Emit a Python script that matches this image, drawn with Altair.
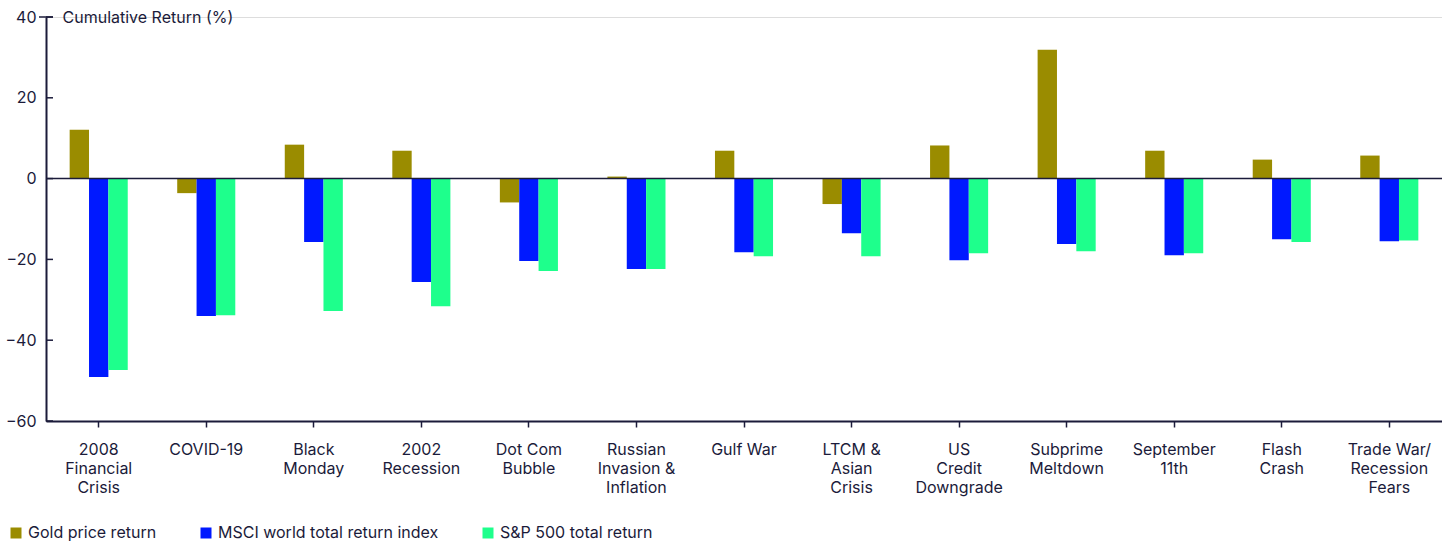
import altair as alt
import pandas as pd

# Market shocks (x categories); "|" marks a line break in the axis label
events = [
    "2008|Financial|Crisis", "COVID-19", "Black|Monday", "2002|Recession",
    "Dot Com|Bubble", "Russian|Invasion &|Inflation", "Gulf War",
    "LTCM &|Asian|Crisis", "US|Credit|Downgrade", "Subprime|Meltdown",
    "September|11th", "Flash|Crash", "Trade War/|Recession|Fears",
]

series = ["Gold price return", "MSCI world total return index", "S&P 500 total return"]
colors = ["#9a8c00", "#0019ff", "#1eff8c"]

# Cumulative return (%) over each episode
gold = [12.1, -3.6, 8.4, 6.9, -5.9, 0.5, 6.9, -6.3, 8.2, 31.9, 6.9, 4.7, 5.7]
msci = [-49.1, -34.0, -15.7, -25.6, -20.4, -22.4, -18.2, -13.5, -20.2, -16.2, -19.0, -15.0, -15.5]
sp500 = [-47.4, -33.8, -32.8, -31.6, -22.9, -22.4, -19.2, -19.2, -18.5, -18.0, -18.5, -15.7, -15.3]

y_ticks = [40, 20, 0, -20, -40, -60]

rows = []
for name, vals in zip(series, [gold, msci, sp500]):
    for ev, v in zip(events, vals):
        rows.append({"event": ev, "series": name, "value": v})
df = pd.DataFrame(rows)

INK = "#1b1b3a"
FONT = "Inter"
FS = 16
W, H = 1396, 404

y_scale = alt.Scale(domain=[-60, 40], nice=False, zero=False)

bars = alt.Chart(df).mark_bar().encode(
    x=alt.X(
        "event:N",
        sort=events,
        scale=alt.Scale(paddingInner=0.46, paddingOuter=0.22),
        axis=alt.Axis(
            title=None,
            labelAngle=0,
            labelExpr="split(datum.label, '|')",
            labelFont=FONT,
            labelFontSize=FS,
            labelColor=INK,
            labelLineHeight=19,
            labelPadding=14,
            tickSize=6,
            tickColor=INK,
            tickWidth=1.5,
            domainColor=INK,
            domainWidth=2,
            grid=False,
        ),
    ),
    xOffset=alt.XOffset("series:N", sort=series, scale=alt.Scale(paddingInner=0, paddingOuter=0)),
    y=alt.Y(
        "value:Q",
        scale=y_scale,
        axis=alt.Axis(
            values=y_ticks,
            title="Cumulative Return (%)",
            titleAngle=0,
            titleAlign="left",
            titleBaseline="middle",
            titleX=16,
            titleY=0,
            titleFont=FONT,
            titleFontSize=FS,
            titleFontWeight="normal",
            titleColor=INK,
            labelFont=FONT,
            labelFontSize=FS,
            labelColor=INK,
            labelPadding=10,
            tickSize=0,
            domainColor=INK,
            domainWidth=2,
            grid=False,
        ),
    ),
    color=alt.Color(
        "series:N",
        sort=series,
        scale=alt.Scale(domain=series, range=colors),
        legend=alt.Legend(
            title=None,
            orient="none",
            legendX=-38,
            legendY=508,
            direction="horizontal",
            symbolType="square",
            symbolSize=121,
            symbolStrokeWidth=0,
            symbolOpacity=1,
            labelFont=FONT,
            labelFontSize=FS,
            labelColor=INK,
            labelOffset=4,
            labelLimit=400,
            columnPadding=41,
        ),
    ),
)

# inward-pointing tick marks on the value axis
tick_df = pd.DataFrame({"v": y_ticks})
ticks = alt.Chart(tick_df).mark_rule(color=INK, strokeWidth=1.5).encode(
    y=alt.Y("v:Q", scale=y_scale),
    x=alt.value(0),
    x2=alt.value(7),
)

# the top tick crosses the axis line, forming a cap
cap = alt.Chart(pd.DataFrame({"v": [y_ticks[0]]})).mark_rule(color=INK, strokeWidth=1.5).encode(
    y=alt.Y("v:Q", scale=y_scale),
    x=alt.value(-7),
    x2=alt.value(7),
)

# zero baseline across the plot
zero = alt.Chart(pd.DataFrame({"z": [0]})).mark_rule(color=INK, strokeWidth=1.5).encode(
    y=alt.Y("z:Q", scale=y_scale)
)

chart = alt.layer(bars, zero, ticks, cap).properties(
    width=W,
    height=H,
    padding={"left": 46, "top": 17, "right": 0, "bottom": 120},
    autosize="none",
).configure_view(stroke=None).configure(font=FONT)

chart.save("out.html", embed_options={"renderer": "svg", "actions": False})
